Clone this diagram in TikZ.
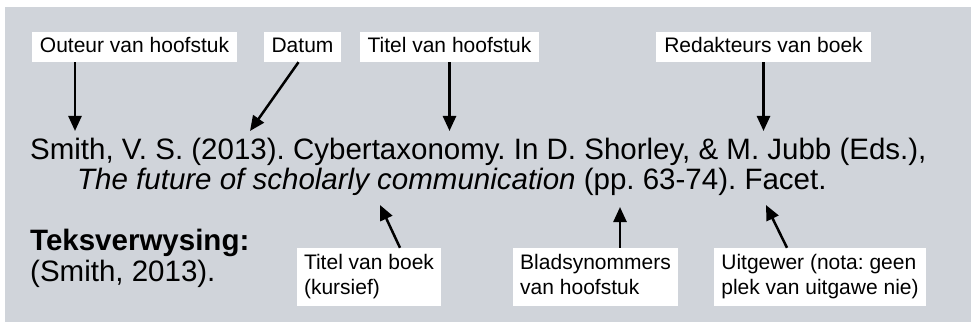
\documentclass[tikz,border=0pt]{standalone}
\usepackage{fontspec}
\setmainfont{Liberation Sans}
\usetikzlibrary{arrows.meta}
\frenchspacing

\definecolor{agtergrond}{RGB}{208,212,218}

\tikzset{
	etiket/.style={fill=white, inner xsep=8pt, inner ysep=5pt, text height=15.5pt, text depth=4.5pt, font=\fontsize{21}{25}\selectfont},
	etiket2/.style={fill=white, inner xsep=7pt, inner ysep=4pt, align=left, font=\fontsize{21}{25}\selectfont},
	verwys/.style={anchor=base west, inner sep=0pt, font=\fontsize{29.5}{30}\selectfont},
	pyl/.style={line width=2.5pt, -{Triangle[length=15pt, width=13pt]}}
}

\begin{document}
\begin{tikzpicture}[x=1pt, y=-1pt]

\useasboundingbox (0, 0) rectangle (974, 326);
\fill[agtergrond] (5, 7) rectangle (971, 322);

% verwysing
\node[verwys] (reel1) at (30, 160) {Smith, V. S. (2013). Cybertaxonomy. In D. Shorley, \& M. Jubb (Eds.),};
\node[verwys] (reel2) at (77, 189) {\textit{The future of scholarly communication} (pp. 63-74). Facet.};
\node[verwys, font=\fontsize{29.5}{30}\selectfont\bfseries] (teks) at (30, 250) {Teksverwysing:};
\node[verwys] (teksvb) at (30, 281) {(Smith, 2013).};

% etikette
\node[etiket] (outeur) at (134.5, 47) {Outeur van hoofstuk};
\node[etiket] (datum) at (302.5, 47) {Datum};
\node[etiket] (hoofstuk) at (449.5, 47) {Titel van hoofstuk};
\node[etiket] (redakteurs) at (763.5, 47) {Redakteurs van boek};
\node[etiket2] (boek) at (369, 277) {\strut Titel van boek\\\strut (kursief)};
\node[etiket2] (bladsy) at (595.5, 277) {\strut Bladsynommers\\\strut van hoofstuk};
\node[etiket2] (uitgewer) at (820, 277) {\strut Uitgewer (nota: geen\\\strut plek van uitgawe nie)};

\coordinate (smith) at (75, 131);
\coordinate (jaar) at (250, 131);
\coordinate (titel) at (449.5, 131);
\coordinate (eds) at (763.5, 131);
\coordinate (kursief) at (380, 205);
\coordinate (pp) at (620, 207);
\coordinate (facet) at (766, 205);

\draw[pyl] (outeur.south -| smith) -- (smith);
\draw[pyl] ([xshift=-4pt]datum.south) -- (jaar);
\draw[pyl] (hoofstuk.south) -- (titel);
\draw[pyl] (redakteurs.south) -- (eds);
\draw[pyl] ([xshift=31pt]boek.north) -- (kursief);
\draw[pyl] (bladsy.north -| pp) -- (pp);
\draw[pyl] ([xshift=-33pt]uitgewer.north) -- (facet);

\end{tikzpicture}
\end{document}
